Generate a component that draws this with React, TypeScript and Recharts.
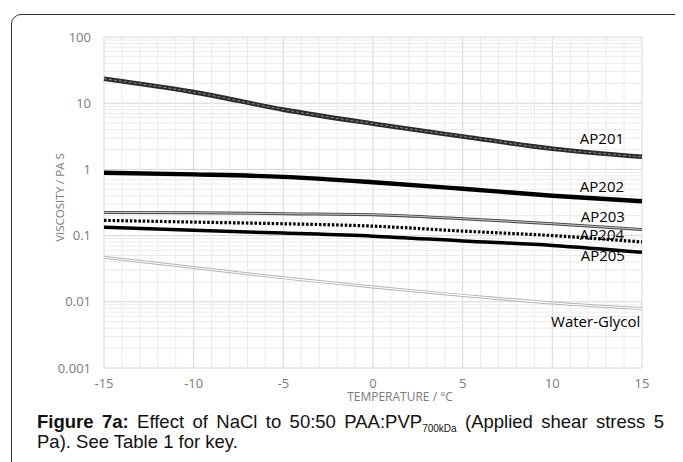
import React from "react";
import {
  LineChart,
  Line,
  XAxis,
  YAxis,
  CartesianGrid,
  ReferenceLine,
  ReferenceDot,
} from "recharts";

// temperature (°C) and viscosity (Pa s)
const temps = [-15, -10, -5, 0, 5, 10, 15];
const ap201 = [23.4, 14.7, 8.0, 4.9, 3.15, 2.05, 1.55];
const ap202 = [0.89, 0.84, 0.77, 0.64, 0.51, 0.4, 0.33];
const ap203 = [0.224, 0.222, 0.214, 0.207, 0.18, 0.151, 0.124];
const ap204 = [0.17, 0.16, 0.151, 0.139, 0.117, 0.1, 0.08];
const ap205 = [0.134, 0.12, 0.109, 0.098, 0.083, 0.071, 0.056];
const waterGlycol = [0.047, 0.033, 0.023, 0.0167, 0.0125, 0.0096, 0.0079];

const xTicks = [-15, -10, -5, 0, 5, 10, 15];
const yTicks = [0.001, 0.01, 0.1, 1, 10, 100];

const xMinor = [-14, -13, -12, -11, -9, -8, -7, -6, -4, -3, -2, -1, 1, 2, 3, 4, 6, 7, 8, 9, 11, 12, 13, 14];
const yMinor = [0.001, 0.01, 0.1, 1, 10].flatMap((d) =>
  [2, 3, 4, 5, 6, 7, 8, 9].map((m) => +(d * m).toPrecision(3))
);

// series labels, placed at the end of each curve (right edge of text)
const seriesLabels = [
  { name: "AP201", x: 14.0, y: 2.94 },
  { name: "AP202", x: 14.0, y: 0.544 },
  { name: "AP203", x: 14.05, y: 0.195 },
  { name: "AP204", x: 14.0, y: 0.1025 },
  { name: "AP205", x: 14.05, y: 0.0493 },
  { name: "Water-Glycol", x: 14.9, y: 0.00506 },
];

const rows = temps.map((t, i) => ({
  t,
  ap201: ap201[i],
  ap202: ap202[i],
  ap203: ap203[i],
  ap204: ap204[i],
  ap205: ap205[i],
  wg: waterGlycol[i],
}));

const axisFont = "'Open Sans', sans-serif";
const grey = "#7a7a7a";

function XTitle(props: any) {
  const vb = props.viewBox || { x: 96, y: 360, width: 538, height: 30 };
  const cx = vb.x + vb.width / 2 + 27;
  const cy = vb.y + 28;
  return (
    <text x={cx} y={cy} textAnchor="middle" dominantBaseline="central" fill={grey} fontSize={12} fontFamily={axisFont}>
      TEMPERATURE / °C
    </text>
  );
}

function YTitle(props: any) {
  const vb = props.viewBox || { x: 40, y: 29, width: 56, height: 331 };
  const cx = vb.x + 11;
  const cy = vb.y + vb.height / 2 - 5;
  return (
    <text
      x={cx}
      y={cy}
      textAnchor="middle"
      dominantBaseline="central"
      fill={grey}
      fontSize={11.5}
      fontFamily={axisFont}
      transform={`rotate(-90, ${cx}, ${cy})`}
    >
      VISCOSITY / PA S
    </text>
  );
}

export default function App() {
  return (
    <div style={{ position: "relative", width: 675, height: 454, overflow: "hidden" }}>
      <div
        style={{
          position: "absolute",
          left: 3,
          top: 6,
          width: 720,
          height: 520,
          border: "1.5px solid #333",
          borderRadius: 10,
          boxSizing: "border-box",
        }}
      />
      <div style={{ position: "absolute", left: 0, top: 0 }}>
        <LineChart width={667} height={400} data={rows} margin={{ top: 29, right: 33, bottom: 10, left: 40 }}>
          {xMinor.map((v) => (
            <ReferenceLine key={"xm" + v} x={v} stroke="#ebebeb" strokeWidth={1} />
          ))}
          {yMinor.map((v) => (
            <ReferenceLine key={"ym" + v} y={v} stroke="#ebebeb" strokeWidth={1} />
          ))}
          <CartesianGrid stroke="#d6d6d6" strokeWidth={1} />
          <XAxis
            dataKey="t"
            type="number"
            domain={[-15, 15]}
            ticks={xTicks}
            tickLine={false}
            axisLine={false}
            tickSize={6}
            tickMargin={5}
            height={30}
            tick={{ fill: grey, fontSize: 13, fontFamily: axisFont }}
            label={{ content: XTitle }}
          />
          <YAxis
            scale="log"
            domain={[0.001, 100]}
            ticks={yTicks}
            allowDataOverflow
            tickLine={false}
            axisLine={false}
            tickSize={6}
            tickMargin={7}
            width={56}
            tickFormatter={(v) => String(v)}
            tick={{ fill: grey, fontSize: 13, fontFamily: axisFont }}
            label={{ content: YTitle }}
          />

          <Line dataKey="wg" type="monotone" stroke="#b4b4b4" strokeWidth={3} dot={false} isAnimationActive={false} />
          <Line dataKey="wg" type="monotone" stroke="#ffffff" strokeWidth={1.1} dot={false} isAnimationActive={false} />

          <Line dataKey="ap205" type="monotone" stroke="#000" strokeWidth={3.5} dot={false} isAnimationActive={false} />
          <Line
            dataKey="ap204"
            type="monotone"
            stroke="#000"
            strokeWidth={3.2}
            strokeDasharray="2.5 1.8"
            dot={false}
            isAnimationActive={false}
          />
          <Line dataKey="ap203" type="monotone" stroke="#4a4a4a" strokeWidth={3} dot={false} isAnimationActive={false} />
          <Line dataKey="ap203" type="monotone" stroke="#c8c8c8" strokeWidth={1} dot={false} isAnimationActive={false} />

          <Line dataKey="ap202" type="monotone" stroke="#000" strokeWidth={4.4} dot={false} isAnimationActive={false} />

          <Line dataKey="ap201" type="monotone" stroke="#2a2a2a" strokeWidth={4.6} dot={false} isAnimationActive={false} />
          <Line
            dataKey="ap201"
            type="monotone"
            stroke="#8a8a8a"
            strokeWidth={1}
            strokeDasharray="3 2"
            dot={false}
            isAnimationActive={false}
          />

          {seriesLabels.map((l) => (
            <ReferenceDot
              key={l.name}
              x={l.x}
              y={l.y}
              r={0}
              fill="none"
              stroke="none"
              label={{
                value: l.name,
                position: "left",
                offset: 0,
                fill: "#000",
                fontSize: 15,
                fontFamily: axisFont,
              }}
            />
          ))}
        </LineChart>
      </div>
      <div
        style={{
          position: "absolute",
          left: 29,
          top: 404,
          width: 627,
          fontFamily: "'Liberation Sans', Arial, sans-serif",
          fontSize: 18.5,
          lineHeight: "20px",
          color: "#111",
        }}
      >
        <div style={{ textAlign: "justify", textAlignLast: "justify" }}>
          <b>Figure 7a:</b> Effect of NaCl to 50:50 PAA:PVP
          <span style={{ fontSize: 10, verticalAlign: -4, lineHeight: 0 }}>700kDa</span> (Applied shear stress 5
        </div>
        <div>Pa). See Table 1 for key.</div>
      </div>
    </div>
  );
}
